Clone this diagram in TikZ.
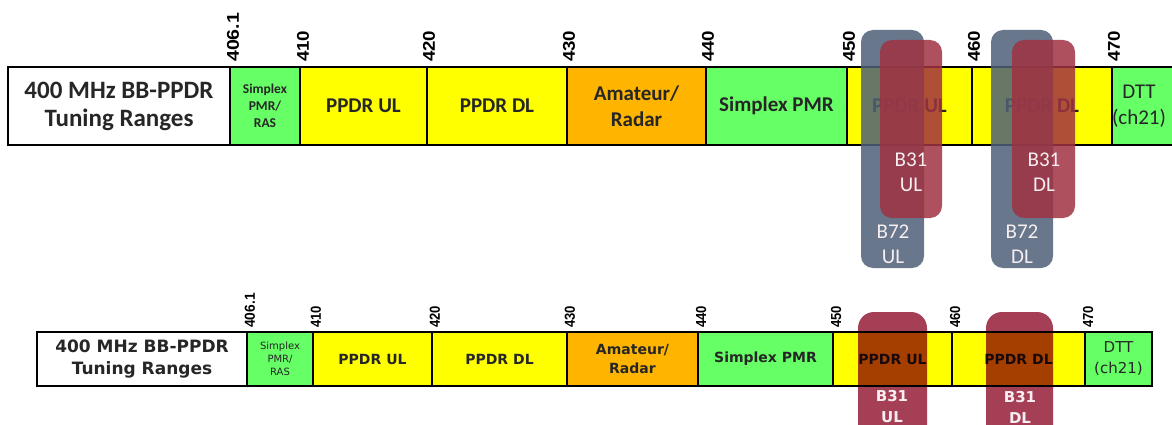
\documentclass[tikz,border=0pt]{standalone}
\usepackage{fontspec}
\usepackage{graphicx}
\newfontfamily\calfont{Carlito}
\newfontfamily\verfont{DejaVu Sans}
\newfontfamily\arfont{Liberation Sans}
\definecolor{segyel}{HTML}{FFFF00}
\definecolor{seggrn}{HTML}{66FF66}
\definecolor{segorg}{HTML}{FFB400}
\definecolor{ovblue}{RGB}{78,96,120}
\definecolor{ovred}{RGB}{160,50,66}
\definecolor{ovredb}{HTML}{A53F55}
\definecolor{txtdark}{HTML}{262626}
\definecolor{ovtext}{HTML}{F6EEF0}
\begin{document}
\begin{tikzpicture}[x=1pt,y=-1pt,
  seg/.style={draw=black, line width=2.6pt, anchor=north west, inner sep=0pt, outer sep=0pt, align=center, text=txtdark},
  topseg/.style={seg, minimum height=78pt, font=\calfont\bfseries\fontsize{21}{26}\selectfont},
  botseg/.style={seg, minimum height=54pt, font=\verfont\bfseries\fontsize{14}{19}\selectfont},
  ticktop/.style={rotate=90, anchor=west, inner sep=0pt, font=\arfont\bfseries\fontsize{17}{17}\selectfont},
  tickbot/.style={rotate=90, anchor=west, inner sep=0pt, font=\arfont\bfseries\fontsize{14.5}{14.5}\selectfont},
  ovb/.style={fill=ovblue, fill opacity=0.85, rounded corners=12pt},
  ovr/.style={fill=ovred, fill opacity=0.85, rounded corners=12pt},
  ovrb/.style={fill=ovredb, rounded corners=16pt},
  ovlab/.style={text=ovtext, align=center, inner sep=0pt, font=\calfont\fontsize{21}{25}\selectfont},
  ovlabb/.style={text=ovtext, align=center, inner sep=0pt, font=\verfont\bfseries\fontsize{15}{21}\selectfont}]
\useasboundingbox (0,0) rectangle (1172,425);
\clip (0,0) rectangle (1172,425);
\fill[white] (0,0) rectangle (1172,425);

% ---------------- top bar ----------------
\node[topseg, fill=white, minimum width=222pt, font=\calfont\bfseries\fontsize{25}{28}\selectfont] (tlab) at (8,67) {400 MHz BB-PPDR\\Tuning Ranges};
\node[topseg, fill=seggrn, minimum width=70pt, font=\calfont\bfseries\fontsize{13.5}{17}\selectfont] (tspr) at (230,67) {Simplex\\PMR/\\RAS};
\node[topseg, fill=segyel, minimum width=127pt] (tul1) at (300,67) {PPDR UL};
\node[topseg, fill=segyel, minimum width=140pt] (tdl1) at (427,67) {PPDR DL};
\node[topseg, fill=segorg, minimum width=139pt] (tam) at (567,67) {Amateur/\\Radar};
\node[topseg, fill=seggrn, minimum width=141pt] (tspm) at (706,67) {Simplex PMR};
\node[topseg, fill=segyel, minimum width=125pt] (tul2) at (847,67) {PPDR UL};
\node[topseg, fill=segyel, minimum width=140pt] (tdl2) at (972,67) {PPDR DL};
\node[topseg, fill=seggrn, minimum width=80pt, font=\calfont\fontsize{21}{26}\selectfont] (tdtt) at (1112,67) {\hspace*{-26pt}DTT\\\hspace*{-26pt}(ch21)};

\node[ticktop] (tk1) at (233,62) {\scalebox{1.15}[1]{406.1}};
\node[ticktop] (tk2) at (303,62) {\scalebox{1.1}[1]{410}};
\node[ticktop] (tk3) at (429,62) {\scalebox{1.1}[1]{420}};
\node[ticktop] (tk4) at (569,62) {\scalebox{1.1}[1]{430}};
\node[ticktop] (tk5) at (708,62) {\scalebox{1.1}[1]{440}};
\node[ticktop] (tk6) at (849,62) {\scalebox{1.1}[1]{450}};
\node[ticktop] (tk7) at (974,62) {\scalebox{1.1}[1]{460}};
\node[ticktop] (tk8) at (1114,62) {\scalebox{1.1}[1]{470}};

% top overlays
\path[ovb] (861,30) rectangle (924,268);
\path[ovb] (991,30) rectangle (1053,268);
\path[ovr] (880,40) rectangle (942,218);
\path[ovr] (1012,40) rectangle (1075,218);
\node[ovlab] (b31ul) at (911,172) {B31\\UL};
\node[ovlab] (b31dl) at (1044,172) {B31\\DL};
\node[ovlab] (b72ul) at (893,244) {B72\\UL};
\node[ovlab] (b72dl) at (1022,244) {B72\\DL};

% ---------------- bottom bar ----------------
\node[botseg, fill=white, minimum width=210pt, font=\verfont\bfseries\fontsize{17}{22}\selectfont] (blab) at (37,332) {400 MHz BB-PPDR\\Tuning Ranges};
\node[botseg, fill=seggrn, minimum width=66pt, font=\verfont\fontsize{10}{13}\selectfont] (bspr) at (247,332) {Simplex\\PMR/\\RAS};
\node[botseg, fill=segyel, minimum width=119pt] (bul1) at (313,332) {PPDR UL};
\node[botseg, fill=segyel, minimum width=135pt] (bdl1) at (432,332) {PPDR DL};
\node[botseg, fill=segorg, minimum width=131pt] (bam) at (567,332) {Amateur/\\Radar};
\node[botseg, fill=seggrn, minimum width=135pt] (bspm) at (698,332) {Simplex PMR};
\node[botseg, fill=segyel, minimum width=119pt] (bul2) at (833,332) {PPDR UL};
\node[botseg, fill=segyel, minimum width=133pt] (bdl2) at (952,332) {PPDR DL};
\node[botseg, fill=seggrn, minimum width=67pt, font=\verfont\fontsize{15}{21}\selectfont] (bdtt) at (1085,332) {DTT\\(ch21)};

\node[tickbot] (bk1) at (250,328) {\scalebox{0.95}[1]{406.1}};
\node[tickbot] (bk2) at (316,328) {\scalebox{0.9}[1]{410}};
\node[tickbot] (bk3) at (435,328) {\scalebox{0.9}[1]{420}};
\node[tickbot] (bk4) at (570,328) {\scalebox{0.9}[1]{430}};
\node[tickbot] (bk5) at (701,328) {\scalebox{0.9}[1]{440}};
\node[tickbot] (bk6) at (836,328) {\scalebox{0.9}[1]{450}};
\node[tickbot] (bk7) at (955,328) {\scalebox{0.9}[1]{460}};
\node[tickbot] (bk8) at (1088,328) {\scalebox{0.9}[1]{470}};

% bottom overlays
\begin{scope}[blend mode=multiply]
\path[ovrb] (858,312) rectangle (927,460);
\path[ovrb] (986,312) rectangle (1053,460);
\end{scope}
\node[ovlabb] (bb31ul) at (892,407) {B31\\UL};
\node[ovlabb] (bb31dl) at (1020,407) {B31\\DL};
\end{tikzpicture}
\end{document}
